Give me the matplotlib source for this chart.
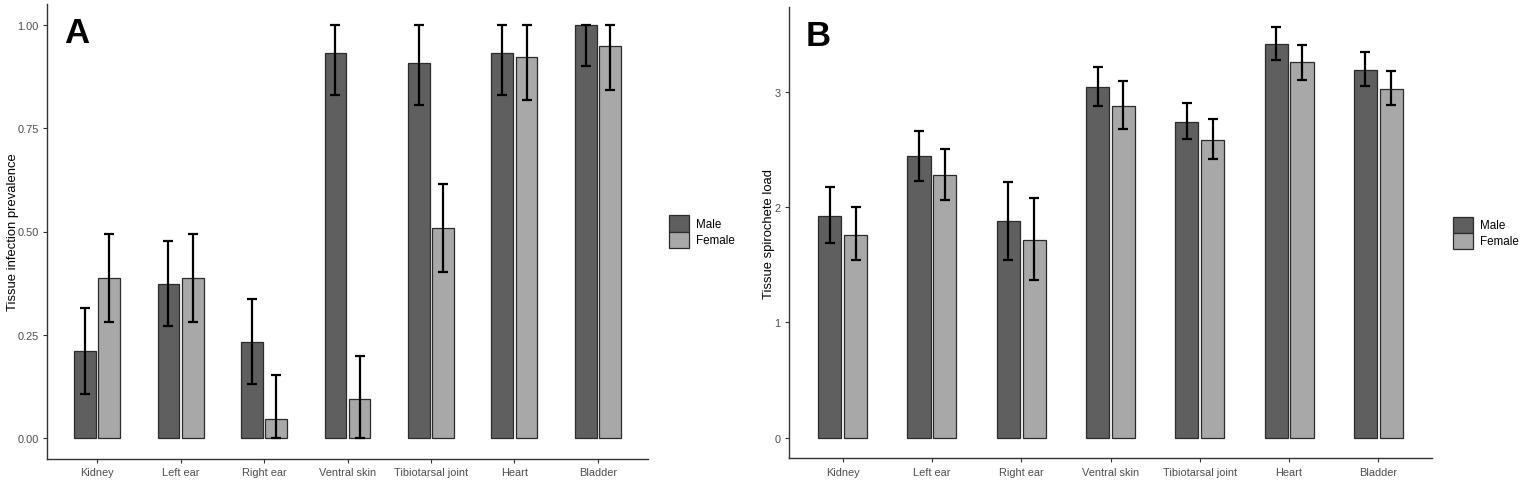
import numpy as np
import matplotlib
matplotlib.use("Agg")
import matplotlib.pyplot as plt

plt.rcParams['font.family'] = ['Liberation Sans', 'DejaVu Sans']

tissues = ["Kidney", "Left ear", "Right ear", "Ventral skin",
           "Tibiotarsal joint", "Heart", "Bladder"]
sexes = ["Male", "Female"]

# panel A: prevalence
prev_male = [0.21, 0.373, 0.234, 0.932, 0.908, 0.932, 1.0]
prev_male_lo = [0.108, 0.271, 0.132, 0.829, 0.806, 0.829, 0.90]
prev_male_hi = [0.314, 0.478, 0.338, 1.0, 1.0, 1.0, 1.0]
prev_female = [0.387, 0.387, 0.046, 0.096, 0.509, 0.923, 0.949]
prev_female_lo = [0.282, 0.282, 0.0, 0.0, 0.403, 0.819, 0.842]
prev_female_hi = [0.494, 0.494, 0.152, 0.20, 0.616, 1.0, 1.0]

# panel B: spirochete load
load_male = [1.923, 2.447, 1.879, 3.046, 2.745, 3.417, 3.191]
load_male_lo = [1.691, 2.229, 1.545, 2.876, 2.594, 3.278, 3.052]
load_male_hi = [2.177, 2.659, 2.218, 3.22, 2.909, 3.567, 3.345]
load_female = [1.760, 2.279, 1.717, 2.878, 2.585, 3.258, 3.032]
load_female_lo = [1.540, 2.064, 1.368, 2.677, 2.418, 3.110, 2.887]
load_female_hi = [1.999, 2.507, 2.082, 3.10, 2.765, 3.406, 3.182]

col_male = "#5f5f5f"
col_female = "#a8a8a8"
txt_col = "#4d4d4d"

fig = plt.figure(figsize=(15.21, 4.81), dpi=100)
axA = fig.add_axes([47/1521, 1-460/481, (648-47)/1521, (460-5)/481])
axB = fig.add_axes([789/1521, 1-459.3/481, (1432-789)/1521, (459.3-8)/481])


def draw(ax, m, mlo, mhi, f, flo, fhi, ylabel, ylim, yticks, yticklabels,
         label_x, leg_x):
    x = np.arange(1, len(tissues) + 1)
    w = 0.26
    off = 0.145
    for vals, lo, hi, c, s, d in [(m, mlo, mhi, col_male, "Male", -off),
                                  (f, flo, fhi, col_female, "Female", off)]:
        vals = np.array(vals)
        ax.bar(x + d, vals, width=w, color=c, edgecolor="#2b2b2b",
               linewidth=0.9, label=s, zorder=2)
        err = [vals - np.array(lo), np.array(hi) - vals]
        ax.errorbar(x + d, vals, yerr=err, fmt="none", ecolor="black",
                    elinewidth=1.6, capsize=3.5, capthick=1.6, zorder=3)
    ax.set_xlim(0.4, len(tissues) + 0.6)
    ax.set_ylim(*ylim)
    ax.set_xticks(x)
    ax.set_xticklabels(tissues, fontsize=7.9, color=txt_col)
    ax.set_yticks(yticks)
    ax.set_yticklabels(yticklabels, fontsize=7.9, color=txt_col)
    ax.set_ylabel(ylabel, fontsize=9.4, color="black")
    ax.yaxis.set_label_coords(label_x, 0.5)
    for sp in ["top", "right"]:
        ax.spines[sp].set_visible(False)
    for sp in ["left", "bottom"]:
        ax.spines[sp].set_color("#333333")
        ax.spines[sp].set_linewidth(1.0)
    ax.tick_params(length=3, width=0.8, color="#333333", pad=3)
    ax.legend(loc="center left", bbox_to_anchor=(leg_x, 0.5), frameon=False,
              fontsize=8.4, handlelength=1.75, handleheight=1.75,
              labelspacing=0.0, handletextpad=0.55, borderaxespad=0)


draw(axA, prev_male, prev_male_lo, prev_male_hi,
     prev_female, prev_female_lo, prev_female_hi,
     "Tissue infection prevalence", (-0.05, 1.05),
     [0, 0.25, 0.5, 0.75, 1.0], ["0.00", "0.25", "0.50", "0.75", "1.00"],
     -0.047, 1.027)
draw(axB, load_male, load_male_lo, load_male_hi,
     load_female, load_female_lo, load_female_hi,
     "Tissue spirochete load", (-0.18, 3.74),
     [0, 1, 2, 3], ["0", "1", "2", "3"],
     -0.021, 1.025)

fig.text(64/1521, 1-43/481, "A", fontsize=25, fontweight="bold", ha="left", va="baseline")
fig.text(806/1521, 1-46/481, "B", fontsize=25, fontweight="bold", ha="left", va="baseline")

fig.savefig("out.png", dpi=100)
